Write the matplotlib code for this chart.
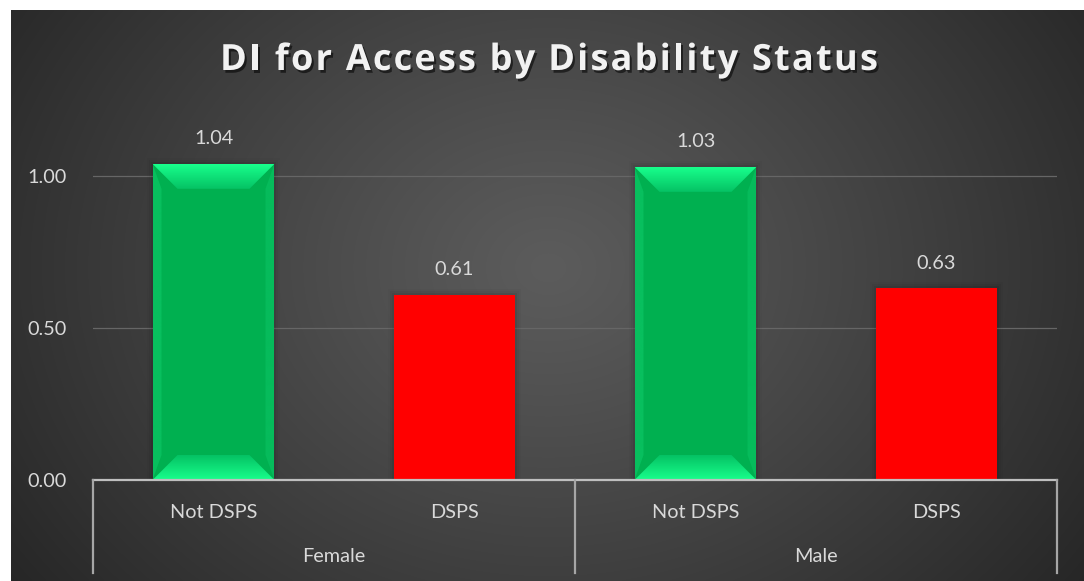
import numpy as np
import matplotlib
matplotlib.use("Agg")
import matplotlib.pyplot as plt
from matplotlib.patches import Polygon, Rectangle
import matplotlib.patheffects as pe
from matplotlib.colors import to_rgb

# ---- data ----
groups = ["Female", "Male"]
subcats = ["Not DSPS", "DSPS", "Not DSPS", "DSPS"]
values = [1.04, 0.61, 1.03, 0.63]
value_labels = ["1.04", "0.61", "1.03", "0.63"]
bar_kinds = ["green", "red", "green", "red"]
yticks = [0.0, 0.5, 1.0]
ytick_labels = ["0.00", "0.50", "1.00"]
title = "DI for Access by Disability Status"

W, H = 1084, 581
fig = plt.figure(figsize=(W / 100, H / 100), dpi=100)
fig.patch.set_facecolor("white")
FS = 14.3
TXT = "#d9d9d9"
FONT = "Lato"

# ---- background radial gradient ----
bg = fig.add_axes([11 / W, 0, 1 - 11 / W, 1 - 10 / H])
bg.set_axis_off()
ny, nx = 300, 560
yy, xx = np.mgrid[0:ny, 0:nx]
cx, cy = nx * 0.50, ny * 0.45
r = np.sqrt(((xx - cx) / (nx * 0.62)) ** 2 + ((yy - cy) / (ny * 0.95)) ** 2)
r = np.clip(r, 0, 1)
c_in = np.array(to_rgb("#5c5c5c"))
c_out = np.array(to_rgb("#262626"))
img = c_in[None, None, :] * (1 - r[..., None] ** 1.1) + c_out[None, None, :] * (r[..., None] ** 1.1)
bg.imshow(img, aspect="auto", extent=[0, 1, 0, 1], origin="upper", interpolation="bilinear")
bg.set_xlim(0, 1)
bg.set_ylim(0, 1)

# ---- main axes ----
left_px, right_px, base_px = 93, 1057, 480
px_per_unit = 304.0
ymax = 1.2
ax = fig.add_axes([left_px / W, (H - base_px) / H, (right_px - left_px) / W, ymax * px_per_unit / H])
ax.set_zorder(2)
ax.patch.set_alpha(0)
n = len(values)
ax.set_xlim(0, n)
ax.set_ylim(0, ymax)
xs = np.arange(n) + 0.5
bw = 0.506

for s in ax.spines.values():
    s.set_visible(False)
ax.set_xticks([])
ax.set_yticks(yticks)
ax.set_yticklabels(ytick_labels)
ax.tick_params(axis="y", length=0, pad=19, labelsize=FS, labelcolor=TXT)
for lab in ax.get_yticklabels():
    lab.set_fontfamily(FONT)
for yv in yticks[1:]:
    ax.axhline(yv, color="#666666", lw=0.9, zorder=1)

cat_px = (right_px - left_px) / n
dx = 25 / cat_px
dy = 25 / px_per_unit
sdx = 9 / cat_px


def grad_poly(ax, verts, c_a, c_b, y_a, y_b, z):
    poly = Polygon(verts, closed=True, facecolor="none", edgecolor="none", zorder=z)
    ax.add_patch(poly)
    ca, cb = np.array(to_rgb(c_a)), np.array(to_rgb(c_b))
    t = np.linspace(0, 1, 64)[:, None]
    g = (ca * (1 - t) + cb * t)[:, None, :]
    xs_ = [v[0] for v in verts]
    im = ax.imshow(g, extent=[min(xs_), max(xs_), y_a, y_b], origin="lower",
                   aspect="auto", zorder=z, interpolation="bilinear")
    im.set_clip_path(poly)


for i, (x, v, kind) in enumerate(zip(xs, values, bar_kinds)):
    x0, x1 = x - bw / 2, x + bw / 2
    # soft shadow
    for k, a in enumerate([0.06, 0.04, 0.025]):
        e = (k + 1) * 2.0 / cat_px
        ax.add_patch(Rectangle((x0 - e, 0), bw + 2 * e, v + e * cat_px / px_per_unit,
                               facecolor="black", alpha=a, edgecolor="none", zorder=2))
    if kind == "red":
        ax.add_patch(Rectangle((x0, 0), bw, v, facecolor="#ff0000", edgecolor="none", zorder=3))
    else:
        ax.add_patch(Rectangle((x0, 0), bw, v, facecolor="#00b050", edgecolor="none", zorder=3))
        # subtle side bevels
        grad_poly(ax, [(x0, 0), (x0 + sdx, dy), (x0 + sdx, v - dy), (x0, v)],
                  "#08bf5e", "#08bf5e", 0, v, 4)
        grad_poly(ax, [(x1, 0), (x1 - sdx, dy), (x1 - sdx, v - dy), (x1, v)],
                  "#06bb5b", "#06bb5b", 0, v, 4)
        # top bevel
        grad_poly(ax, [(x0, v), (x1, v), (x1 - dx, v - dy), (x0 + dx, v - dy)],
                  "#05c264", "#18ff8c", v - dy, v, 5)
        # bottom bevel
        grad_poly(ax, [(x0, 0), (x1, 0), (x1 - dx, dy), (x0 + dx, dy)],
                  "#18ff8c", "#05c264", 0, dy, 5)
    ax.text(x, v + 25 / px_per_unit, value_labels[i], ha="center", va="center",
            fontsize=FS, color=TXT, family=FONT, zorder=6)

# baseline
ax.axhline(0, color="#bfbfbf", lw=1.6, zorder=7, clip_on=False)

# multi-level category axis
ax_h_px = ymax * px_per_unit
drop = 93 / ax_h_px
for xb in [0, n / 2, n]:
    ax.plot([xb, xb], [0, -drop], transform=ax.get_xaxis_transform(), color="#a6a6a6",
            lw=1.6, clip_on=False, zorder=7)
for x, lab in zip(xs, subcats):
    ax.text(x, -32 / ax_h_px, lab, transform=ax.get_xaxis_transform(), ha="center", va="center",
            fontsize=FS, color=TXT, family=FONT)
for gi, g in enumerate(groups):
    ax.text(gi * 2 + 1, -77 / ax_h_px, g, transform=ax.get_xaxis_transform(), ha="center",
            va="center", fontsize=FS, color=TXT, family=FONT)

# title with letter spacing
renderer = fig.canvas.get_renderer()
tprops = dict(fontsize=26, fontweight="bold", family="Open Sans")
from matplotlib.font_manager import FontProperties
fp = FontProperties(family="Open Sans", weight="bold", size=26)
bar_w = renderer.get_text_width_height_descent("|", fp, ismath=False)[0]
spacing = 2.2
offsets = []
for k in range(len(title)):
    w_pref = renderer.get_text_width_height_descent(title[:k] + "|", fp, ismath=False)[0] - bar_w
    offsets.append(w_pref + spacing * k)
total = renderer.get_text_width_height_descent(title + "|", fp, ismath=False)[0] - bar_w + spacing * (len(title) - 1)
start = 549 - total / 2
for k, ch in enumerate(title):
    if ch == " ":
        continue
    fig.text((start + offsets[k]) / W, 1 - 70 / H, ch, ha="left", va="baseline",
             color="#f2f2f2", **tprops,
             path_effects=[pe.withSimplePatchShadow(offset=(1.5, -2), shadow_rgbFace="black", alpha=0.55)])

fig.savefig("out.png", dpi=100, facecolor="white")
